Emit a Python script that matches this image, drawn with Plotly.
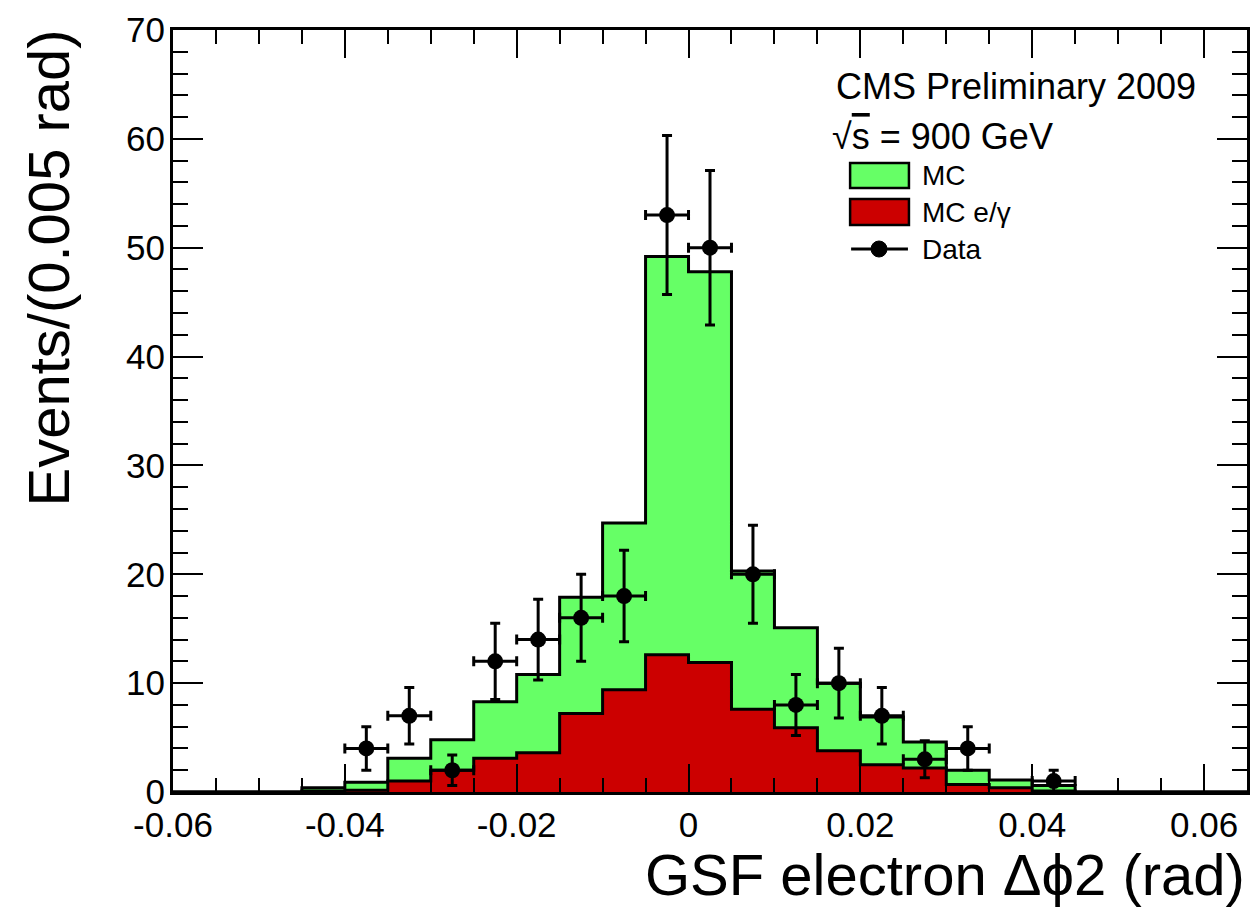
import plotly.graph_objects as go

# ---- data ----
bin_edges = [-0.06, -0.055, -0.05, -0.045, -0.04, -0.035, -0.03, -0.025, -0.02, -0.015,
             -0.01, -0.005, 0.0, 0.005, 0.01, 0.015, 0.02, 0.025, 0.03, 0.035,
             0.04, 0.045, 0.05, 0.055, 0.06, 0.065]
mc_total = [0, 0, 0, 0.4, 0.9, 3.1, 4.8, 8.3, 10.8, 17.9, 24.7, 49.2, 47.8,
            20.3, 15.1, 10.0, 6.9, 4.6, 2.0, 1.1, 0.6, 0, 0, 0, 0]
mc_egamma = [0, 0, 0, 0.1, 0.15, 1.0, 2.0, 3.1, 3.6, 7.2, 9.4, 12.6, 11.9,
             7.6, 5.9, 3.8, 2.5, 2.2, 0.7, 0.4, 0.1, 0, 0, 0, 0]
data_x = [-0.0375, -0.0325, -0.0275, -0.0225, -0.0175, -0.0125, -0.0075, -0.0025,
          0.0025, 0.0075, 0.0125, 0.0175, 0.0225, 0.0275, 0.0325, 0.0425]
data_y = [4, 7, 2, 12, 14, 16, 18, 53, 50, 20, 8, 10, 7, 3, 4, 1]
data_err = [2.0, 2.6, 1.4, 3.5, 3.7, 4.0, 4.2, 7.3, 7.1, 4.5, 2.8, 3.2, 2.6, 1.7, 2.0, 1.0]
half_bin = 0.0025
x_tickvals = [-0.06, -0.04, -0.02, 0, 0.02, 0.04, 0.06]
x_ticktext = ["-0.06", "-0.04", "-0.02", "0", "0.02", "0.04", "0.06"]
y_tickvals = [0, 10, 20, 30, 40, 50, 60, 70]

GREEN = "#66FF66"
RED = "#CC0000"
FONT = "Liberation Sans"

fig = go.Figure()

fig.add_trace(go.Scatter(
    x=bin_edges, y=mc_total + [mc_total[-1]], mode="lines", line_shape="hv",
    line=dict(color="black", width=3), fill="tozeroy", fillcolor=GREEN,
    name="MC", showlegend=False, hoverinfo="skip"))
fig.add_trace(go.Scatter(
    x=bin_edges, y=mc_egamma + [mc_egamma[-1]], mode="lines", line_shape="hv",
    line=dict(color="black", width=3), fill="tozeroy", fillcolor=RED,
    name="MC e/γ", showlegend=False, hoverinfo="skip"))
fig.add_trace(go.Scatter(
    x=data_x, y=data_y, mode="markers",
    marker=dict(color="black", size=16, symbol="circle"),
    error_y=dict(type="data", array=data_err, visible=True, color="black", thickness=3, width=5),
    error_x=dict(type="constant", value=half_bin, visible=True, color="black", thickness=3, width=5),
    name="Data", showlegend=False))

axis_common = dict(
    showline=True, linecolor="black", linewidth=3, mirror="ticks",
    ticks="inside", tickcolor="black", tickwidth=2, showgrid=False, zeroline=False,
    tickfont=dict(family=FONT, size=35, color="black"),
)
fig.update_xaxes(range=[-0.06, 0.065], tickvals=x_tickvals, ticktext=x_ticktext,
                 ticklen=28,
                 minor=dict(ticks="inside", ticklen=14, dtick=0.005, tick0=0, tickcolor="black", tickwidth=2, showgrid=False),
                 **axis_common)
fig.update_yaxes(range=[0, 70], tickvals=y_tickvals, ticklen=30, ticklabelstandoff=-2,
                 minor=dict(ticks="inside", ticklen=15, dtick=2, tick0=0, tickcolor="black", tickwidth=2, showgrid=False),
                 **axis_common)

def px_x(p):
    return (p - 173) / 1077.0

def px_y(p):
    return (792 - p) / 762.0

shapes = [
    dict(type="rect", xref="paper", yref="paper", x0=px_x(852), x1=px_x(911), y0=px_y(188), y1=px_y(163),
         fillcolor=GREEN, line=dict(color="black", width=2.5)),
    dict(type="rect", xref="paper", yref="paper", x0=px_x(852), x1=px_x(911), y0=px_y(225), y1=px_y(199),
         fillcolor=RED, line=dict(color="black", width=2.5)),
    dict(type="line", xref="paper", yref="paper", x0=px_x(853), x1=px_x(910), y0=px_y(249), y1=px_y(249),
         line=dict(color="black", width=3)),
    dict(type="circle", xref="paper", yref="paper", x0=px_x(873), x1=px_x(889), y0=px_y(257), y1=px_y(241),
         fillcolor="black", line=dict(color="black", width=1)),
]

annotations = [
    dict(text="CMS Preliminary 2009", xref="paper", yref="paper", x=px_x(836), y=px_y(87),
         xanchor="left", yanchor="middle", showarrow=False, font=dict(family=FONT, size=36, color="black")),
    dict(text="√<span style='text-decoration:overline'>s</span> = 900 GeV", xref="paper", yref="paper",
         x=px_x(832), y=px_y(136),
         xanchor="left", yanchor="middle", showarrow=False, font=dict(family=FONT, size=36, color="black")),
    dict(text="MC", xref="paper", yref="paper", x=px_x(922), y=px_y(176),
         xanchor="left", yanchor="middle", showarrow=False, font=dict(family=FONT, size=28, color="black")),
    dict(text="MC e/γ", xref="paper", yref="paper", x=px_x(922), y=px_y(212),
         xanchor="left", yanchor="middle", showarrow=False, font=dict(family=FONT, size=28, color="black")),
    dict(text="Data", xref="paper", yref="paper", x=px_x(922), y=px_y(250),
         xanchor="left", yanchor="middle", showarrow=False, font=dict(family=FONT, size=28, color="black")),
    dict(text="GSF electron Δϕ2 (rad)", xref="paper", yref="paper", x=1.0, y=px_y(909),
         xanchor="right", yanchor="bottom", showarrow=False,
         font=dict(family=FONT, size=58, color="black")),
    dict(text="Events/(0.005 rad)", xref="paper", yref="paper", x=0, y=1,
         xanchor="center", yanchor="top", xshift=-125, yshift=2, textangle=-90, showarrow=False,
         font=dict(family=FONT, size=58, color="black")),
]

fig.update_layout(
    width=1258, height=910,
    margin=dict(l=173, r=8, t=30, b=118),
    paper_bgcolor="white", plot_bgcolor="white",
    shapes=shapes, annotations=annotations, showlegend=False,
)

fig.write_html("out.html")
